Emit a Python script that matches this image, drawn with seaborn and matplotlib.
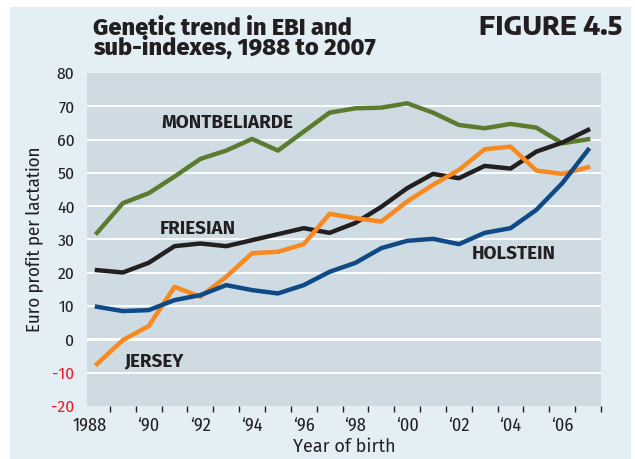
import pandas as pd
import seaborn as sns
import matplotlib.pyplot as plt
import matplotlib.transforms as mtransforms
from matplotlib.patches import Rectangle

# Genetic trend values (euro per lactation)
years = list(range(1988, 2008))
montbeliarde = [32, 40.9, 43.9, 48.9, 54.2, 56.7, 60.2, 56.7, 62.4, 68.1,
                69.4, 69.6, 70.9, 68.1, 64.4, 63.4, 64.7, 63.6, 58.9, 60.1]
friesian = [20.8, 20.1, 23.0, 28.0, 28.8, 28.0, 29.8, 31.6, 33.4, 32.0,
            35.0, 39.8, 45.4, 49.7, 48.4, 52.1, 51.3, 56.4, 59.1, 62.9]
jersey = [-7.4, -0.2, 4.0, 15.8, 12.8, 18.8, 25.9, 26.3, 28.6, 37.7,
          36.4, 35.4, 41.4, 46.4, 50.9, 57.1, 57.9, 50.7, 49.7, 51.7]
holstein = [9.8, 8.5, 8.8, 11.8, 13.3, 16.3, 14.8, 13.8, 16.3, 20.3,
            23.0, 27.4, 29.6, 30.2, 28.6, 32.0, 33.4, 38.9, 46.9, 56.9]

breeds = ['MONTBELIARDE', 'FRIESIAN', 'JERSEY', 'HOLSTEIN']
colours = ['#5b7b2f', '#231f20', '#f7891f', '#0f4a86']
y_ticks = list(range(-20, 81, 10))
x_labels = ['1988', '\u201890', '\u201892', '\u201894', '\u201896', '\u201898',
            '\u201800', '\u201802', '\u201804', '\u201806']

df = pd.DataFrame({
    'year': years * 4,
    'value': montbeliarde + friesian + jersey + holstein,
    'breed': [b for b in breeds for _ in years],
})

cond = ['Fira Sans Condensed', 'DejaVu Sans']
wide = ['Fira Sans', 'DejaVu Sans']
ink = '#231f20'

fig = plt.figure(figsize=(6.35, 4.59), dpi=100, facecolor='white')
# light blue panel behind everything
fig.patches.append(Rectangle((10 / 635, 0), 620 / 635, 452 / 459,
                             transform=fig.transFigure, color='#e3eef5', zorder=-5))

ax = fig.add_axes([87 / 635, 53 / 459, 514 / 635, 333 / 459], zorder=2)
ax.set_facecolor('#cedbe3')

for y in y_ticks[1:-1]:
    ax.axhline(y, color='white', lw=2.2 if y == 0 else 1.3, zorder=1)

sns.lineplot(data=df, x='year', y='value', hue='breed', palette=colours,
             hue_order=breeds, lw=3.2, legend=False, ax=ax, zorder=3)

ax.set_xlim(1987.613, 2007.497)
ax.set_ylim(-20, 80)
for s in ax.spines.values():
    s.set_visible(False)

ax.set_yticks(y_ticks)
ax.set_yticklabels([str(v) for v in y_ticks], family=cond, fontsize=12.5)
for lab, v in zip(ax.get_yticklabels(), y_ticks):
    lab.set_color('#ee1c25' if v < 0 else ink)
ax.tick_params(axis='y', length=0, pad=9)

ax.set_xticks([y + 0.5 for y in years], minor=True)
ax.set_xticks(years[::2])
ax.set_xticklabels(x_labels, family=cond, fontsize=13, color=ink)
ax.tick_params(axis='x', which='major', length=0, pad=8)
ax.tick_params(axis='x', which='minor', length=4, width=1, color=ink, direction='out')
# the first label sits a little to the left in the original
first = ax.get_xticklabels()[0]
first.set_transform(first.get_transform() + mtransforms.ScaledTranslation(-7 / 100, 0, fig.dpi_scale_trans))

ax.set_xlabel('Year of birth', family=wide, fontsize=13, color=ink, labelpad=2)
ax.set_ylabel('Euro profit per lactation', family=cond, fontsize=13.5, color=ink, labelpad=6)

lab_kw = dict(family=wide, fontweight='bold', fontsize=13.5, color=ink, zorder=4)
ax.text(1990.48, 63.6, 'MONTBELIARDE', **lab_kw)
ax.text(1990.44, 31.7, 'FRIESIAN', **lab_kw)
ax.text(1989.06, -8.2, 'JERSEY', **lab_kw)
ax.text(2002.49, 24.0, 'HOLSTEIN', **lab_kw)

# two-line title as one text block, baseline of the last line
fig.text(93 / 635, 1 - 55 / 459, 'Genetic trend in EBI and\nsub-indexes, 1988 to 2007',
         family=wide, fontweight=800, fontsize=17, color=ink, va='baseline', linespacing=0.8)
fig.text(622 / 635, 1 - 35 / 459, 'FIGURE 4.5', family=['Encode Sans Semi Expanded', 'DejaVu Sans'],
         fontweight=800, fontsize=17.5, color=ink, ha='right', va='baseline')

fig.savefig('out.png', dpi=100)
